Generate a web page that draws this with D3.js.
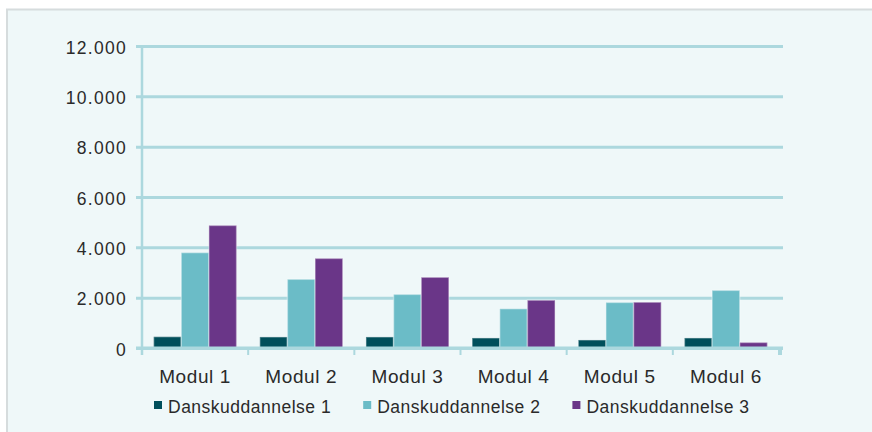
<!DOCTYPE html>
<html>
<head>
<meta charset="utf-8">
<script src="https://cdn.jsdelivr.net/npm/d3@7"></script>
<style>
  body { margin: 0; background: #ffffff; }
  svg { display: block; font-family: "Liberation Sans", Arial, sans-serif; }
</style>
</head>
<body>
<svg id="chart" width="872" height="432"></svg>
<script>
// chart data
const modules = ["Modul 1", "Modul 2", "Modul 3", "Modul 4", "Modul 5", "Modul 6"];
const seriesNames = ["Danskuddannelse 1", "Danskuddannelse 2", "Danskuddannelse 3"];
const dansk1 = [450, 440, 440, 400, 320, 400];
const dansk2 = [3790, 2730, 2130, 1560, 1810, 2290];
const dansk3 = [4870, 3560, 2810, 1900, 1820, 220];
const yTicks = [0, 2000, 4000, 6000, 8000, 10000, 12000];
const colors = ["#004f5b", "#6bbcc7", "#6a3688"];

const seriesValues = [dansk1, dansk2, dansk3];

const svg = d3.select("#chart");

// chart background with border
svg.append("rect").attr("x", 7).attr("y", 9).attr("width", 872).attr("height", 432)
    .attr("fill", "#eff8f9");
svg.append("line").attr("x1", 6).attr("x2", 872).attr("y1", 9.5).attr("y2", 9.5)
    .attr("stroke", "#d6dcdd").attr("stroke-width", 2);
svg.append("line").attr("x1", 7).attr("x2", 7).attr("y1", 9).attr("y2", 432)
    .attr("stroke", "#d6dcdd").attr("stroke-width", 2);

const plot = {left: 142, right: 779, top: 46, bottom: 348};

let x0 = d3.scaleBand().domain(modules).range([plot.left, plot.right]).padding(0);
let x1 = d3.scaleBand().domain(seriesNames).range([0, x0.bandwidth()])
    .paddingInner(0).paddingOuter(0.42);
let y = d3.scaleLinear().domain([0, 12000]).range([plot.bottom, plot.top]);

const fmt = d3.formatLocale({decimal: ",", thousands: ".", grouping: [3], currency: ["", ""]}).format(",d");
const gridColor = "#acd8de";

// gridlines (drawn from the y axis, tick stub on the left)
let yAxis = d3.axisLeft(y).tickValues(yTicks).tickFormat(fmt)
    .tickSize(-(plot.right - plot.left + 4)).tickPadding(10);
let gy = svg.append("g").attr("transform", "translate(" + plot.left + ",0)").call(yAxis);
gy.select(".domain").remove();
gy.selectAll(".tick line").attr("x1", -6).attr("stroke", gridColor).attr("stroke-width", 3);
gy.selectAll(".tick text")
    .attr("x", -15)
    .attr("fill", "#2a2a2a")
    .style("font-size", "17.5px")
    .style("letter-spacing", "1.3px")
    .attr("dy", "0.4em");

// bars
let groups = svg.append("g").selectAll("g")
    .data(modules)
    .enter().append("g")
    .attr("transform", d => "translate(" + x0(d) + ",0)");

groups.selectAll("rect")
    .data((m, i) => seriesNames.map((s, j) => ({series: s, idx: j, value: seriesValues[j][i]})))
    .enter().append("rect")
    .attr("x", d => x1(d.series))
    .attr("width", x1.bandwidth())
    .attr("y", d => y(d.value))
    .attr("height", d => y(0) - y(d.value))
    .attr("fill", d => colors[d.idx])
    .attr("stroke", "rgba(255,255,255,0.35)")
    .attr("stroke-width", 1.5);

// vertical axis line
svg.append("line")
    .attr("x1", plot.left).attr("x2", plot.left)
    .attr("y1", plot.top).attr("y2", plot.bottom + 7)
    .attr("stroke", gridColor).attr("stroke-width", 2.5);

// x axis on top of bars
let xAxis = d3.axisBottom(x0).tickSize(0).tickPadding(22);
let gx = svg.append("g").attr("transform", "translate(0," + plot.bottom + ")").call(xAxis);
gx.select(".domain").attr("stroke", gridColor).attr("stroke-width", 3)
    .attr("d", "M" + (plot.left - 6) + ",0H" + (plot.right + 4));
gx.selectAll(".tick text")
    .attr("fill", "#2a2a2a")
    .style("font-size", "19px")
    .style("letter-spacing", "0.6px");

// category separator ticks
svg.append("g").selectAll("line")
    .data(modules.slice(1).concat(["end"]))
    .enter().append("line")
    .attr("x1", d => d === "end" ? plot.right + 1 : x0(d))
    .attr("x2", d => d === "end" ? plot.right + 1 : x0(d))
    .attr("y1", plot.bottom)
    .attr("y2", plot.bottom + 7)
    .attr("stroke", gridColor)
    .attr("stroke-width", d => d === "end" ? 4 : 2);

// legend
let legend = svg.append("g").attr("transform", "translate(154,0)");
let lx = 0;
seriesNames.forEach(function (s, i) {
    let item = legend.append("g").attr("transform", "translate(" + lx + ",0)");
    item.append("rect")
        .attr("x", 0).attr("y", 401)
        .attr("width", 8).attr("height", 8)
        .attr("fill", colors[i]);
    let t = item.append("text")
        .attr("x", 14).attr("y", 413)
        .attr("fill", "#2a2a2a")
        .style("font-size", "17.5px")
        .style("letter-spacing", "0.5px")
        .text(s);
    lx += 14 + t.node().getComputedTextLength() + 32;
});
</script>
</body>
</html>
